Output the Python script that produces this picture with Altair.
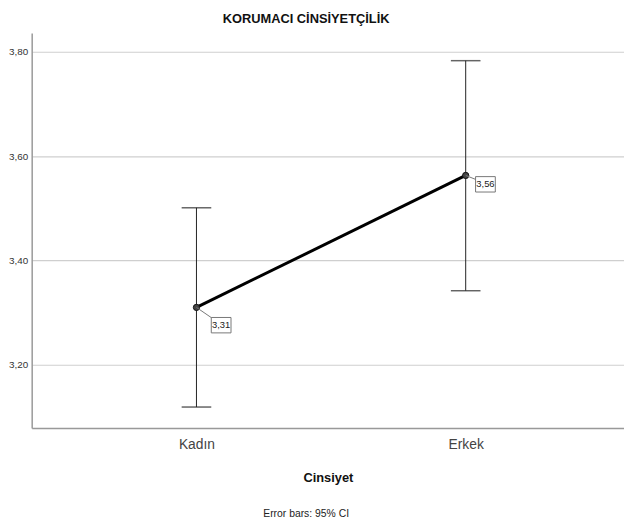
import altair as alt
import pandas as pd

categories = ["Kadın", "Erkek"]
means = [3.31, 3.563]
ci_low = [3.119, 3.342]
ci_high = [3.501, 3.783]
mean_labels = ["3,31", "3,56"]
y_ticks = [3.2, 3.4, 3.6, 3.8]

df = pd.DataFrame({
    "cat": categories,
    "mean": means,
    "lo": ci_low,
    "hi": ci_high,
    "lab": mean_labels,
})

FONT = "Liberation Sans, Arial, sans-serif"

xs = alt.Scale(type="point", domain=categories, padding=0.6, align=0.51)
ys = alt.Scale(domain=[3.079, 3.836], nice=False, zero=False)

x_enc = alt.X("cat:N", scale=xs, sort=categories,
              axis=alt.Axis(title="Cinsiyet", labelAngle=0, ticks=False, grid=False,
                            labelFontSize=14, labelColor="#444", labelPadding=10,
                            titleFontSize=13, titleFontWeight="bold", titleColor="#111",
                            titlePadding=20, domainColor="#999", domainWidth=1.5,
                            labelFont=FONT, titleFont=FONT))
y_enc = alt.Y("mean:Q", scale=ys,
              axis=alt.Axis(title=None, values=y_ticks, ticks=False, grid=True,
                            gridColor="#cfcfcf", gridWidth=1.2,
                            labelExpr="replace(format(datum.value, '.2f'), '.', ',')",
                            labelFontSize=10, labelColor="#333", labelPadding=4,
                            domainColor="#999", domainWidth=1.5, labelFont=FONT))

base = alt.Chart(df)

err = base.mark_rule(color="#222", strokeWidth=1).encode(
    x=x_enc, y=alt.Y("lo:Q", scale=ys), y2="hi:Q")
cap_hi = base.mark_tick(color="#222", size=30, thickness=1.5).encode(
    x=alt.X("cat:N", scale=xs), y=alt.Y("hi:Q", scale=ys))
cap_lo = base.mark_tick(color="#222", size=30, thickness=1.5).encode(
    x=alt.X("cat:N", scale=xs), y=alt.Y("lo:Q", scale=ys))
line = base.mark_line(color="black", strokeWidth=3).encode(
    x=alt.X("cat:N", scale=xs, sort=categories), y=y_enc)
pts = base.mark_point(filled=True, color="#444", stroke="#111", strokeWidth=1,
                      size=40, opacity=1).encode(
    x=alt.X("cat:N", scale=xs), y=alt.Y("mean:Q", scale=ys))

def label_layer(cat, dx, dy, lx, ly):
    b = base.transform_filter(alt.datum.cat == cat)
    lead = b.mark_rule(color="#777", strokeWidth=1, x2Offset=lx, y2Offset=ly).encode(
        x=alt.X("cat:N", scale=xs), x2="cat:N",
        y=alt.Y("mean:Q", scale=ys), y2="mean:Q")
    box = b.mark_point(shape="M-1,-0.78H1V0.78H-1Z", size=400, filled=True, fill="white",
                       stroke="#777", strokeWidth=1, opacity=1,
                       xOffset=dx, yOffset=dy).encode(
        x=alt.X("cat:N", scale=xs), y=alt.Y("mean:Q", scale=ys))
    txt = b.mark_text(fontSize=9.5, font=FONT, color="#222", dx=dx, dy=dy,
                      align="center", baseline="middle").encode(
        x=alt.X("cat:N", scale=xs), y=alt.Y("mean:Q", scale=ys), text="lab:N")
    return lead + box + txt

lab1 = label_layer("Kadın", 25, 18, 16, 11)
lab2 = label_layer("Erkek", 20, 9, 10, 4)

note = alt.Chart(pd.DataFrame({"t": ["Error bars: 95% CI"]})).mark_text(
    fontSize=10.5, font=FONT, color="#222", align="center", baseline="middle").encode(
    x=alt.value(278), y=alt.value(487), text="t:N")

chart = alt.layer(err, cap_hi, cap_lo, line, pts, lab1, lab2, note).properties(
    width=600, height=400,
    padding={"left": 24, "top": 22, "right": 0, "bottom": 95},
    autosize=alt.AutoSizeParams(type="none"),
    title=alt.Title("KORUMACI CİNSİYETÇİLİK", fontSize=13, fontWeight="bold",
                    font=FONT, color="#111", anchor="middle", offset=7, dx=-22),
).configure_view(stroke=None).configure_axis(
    labelFont=FONT, titleFont=FONT)

chart.save("out.html", embed_options={"renderer": "svg", "actions": False})
